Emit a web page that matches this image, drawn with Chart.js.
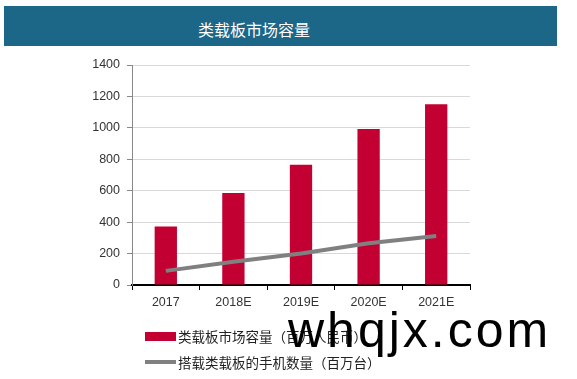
<!DOCTYPE html>
<html><head><meta charset="utf-8">
<script src="https://cdn.jsdelivr.net/npm/chart.js@4"></script>
<style>
html,body{margin:0;padding:0;background:#fff;}
#wrap{position:relative;width:577px;height:379px;overflow:hidden;}
#banner{position:absolute;left:4px;top:6px;width:553px;height:40px;background:#1c6688;}
#title{position:absolute;left:0;width:508px;top:17px;height:18px;line-height:18px;text-align:center;color:#fff;font:16px "Noto Sans CJK SC",sans-serif;}
canvas{position:absolute;left:0;top:0;}
#legend{position:absolute;left:145px;top:323px;font:13.5px "Noto Sans CJK SC",serif;color:#222;}
.item{height:26px;line-height:26px;display:flex;align-items:center;}
.sw{display:inline-block;width:31px;margin-right:2px;}
#wm{position:absolute;left:288px;top:302px;font:50px "Liberation Sans",Arial,sans-serif;letter-spacing:3px;color:#000;line-height:56px;}
</style></head>
<body><div id="wrap">
<div id="banner"></div><div id="title">类载板市场容量</div>
<canvas id="c" width="577" height="379"></canvas>
<div id="legend"></div>
<div id="wm">whqjx.com</div>
</div>
<script>
const categories = ["2017","2018E","2019E","2020E","2021E"];
const marketSize = [372, 585, 765, 993, 1150];
const phones = [90, 148, 200, 265, 312];
const seriesLabels = ["类载板市场容量（百万人民币）","搭载类载板的手机数量（百万台）"];
const yTicks = [0,200,400,600,800,1000,1200,1400];

const barColor = "#c20032", lineColor = "#808080";
new Chart(document.getElementById("c"), {
  data: {
    labels: categories,
    datasets: [
      {type:"line", label:seriesLabels[1], data:phones, borderColor:lineColor, backgroundColor:lineColor,
       borderWidth:4, pointRadius:0, tension:0, order:0, borderCapStyle:"butt"},
      {type:"bar", label:seriesLabels[0], data:marketSize, backgroundColor:barColor,
       barPercentage:0.33, categoryPercentage:1, order:1}
    ]
  },
  options: {
    responsive:false, animation:false, devicePixelRatio:1,
    layout:{padding:{top:65,left:0,right:107,bottom:0}},
    plugins:{legend:{display:false}, tooltip:{enabled:false}},
    scales:{
      x:{
        offset:true,
        grid:{offset:true, drawOnChartArea:false, drawTicks:true, tickLength:5, color:"#000"},
        border:{color:"#000", width:2},
        ticks:{font:{family:"Liberation Sans", size:12.5}, color:"#333", padding:5},
        afterFit:(s)=>{s.height=94;}
      },
      y:{
        min:0, max:1400,
        afterBuildTicks:(s)=>{s.ticks=yTicks.map(v=>({value:v}));},
        grid:{color:"#d9d9d9", lineWidth:1, tickLength:5, tickColor:"#888"},
        border:{color:"#888", width:1},
        ticks:{font:{family:"Liberation Sans", size:12.5}, color:"#333", padding:7, callback:(v)=>String(v)},
        afterFit:(s)=>{s.width=132;}
      }
    }
  }
});
const lg = document.getElementById("legend");
lg.innerHTML =
  '<div class="item"><span class="sw" style="height:9px;background:'+barColor+'"></span>'+seriesLabels[0]+'</div>'+
  '<div class="item"><span class="sw" style="height:4px;background:'+lineColor+'"></span>'+seriesLabels[1]+'</div>';
</script>
</body></html>
